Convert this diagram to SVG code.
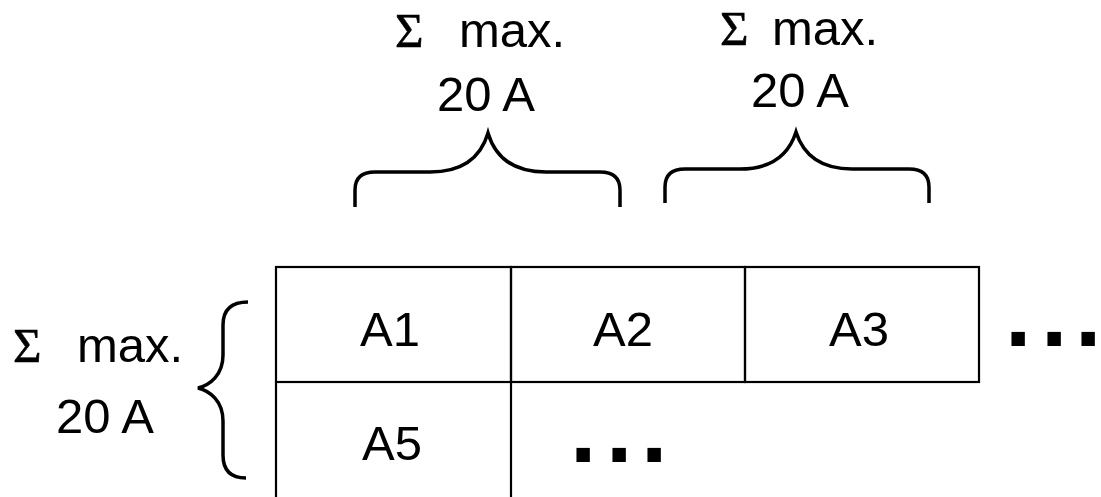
<svg xmlns="http://www.w3.org/2000/svg" width="1101" height="497" viewBox="0 0 1101 497">
<style>
.cell{fill:none;stroke:#000;stroke-width:2.2}
.brace{fill:none;stroke:#000;stroke-width:3.5;stroke-linecap:butt}
.t{font-family:"Liberation Sans",Arial,sans-serif;font-size:49px;fill:#000}
.s{font-family:"Liberation Serif","Times New Roman",serif;font-size:49px;fill:#000;stroke:#000;stroke-width:0.6}
.c{text-anchor:middle}
.dots{font-family:"Liberation Sans",Arial,sans-serif;font-size:95px;font-weight:bold;fill:#000}
</style>
<rect width="1101" height="497" fill="#fff"/>
<g id="cell-A1"><rect class="cell" x="276" y="267" width="235" height="115"/><text class="t c" x="390" y="346">A1</text></g>
<g id="cell-A2"><rect class="cell" x="511" y="267" width="234" height="115"/><text class="t c" x="623" y="346">A2</text></g>
<g id="cell-A3"><rect class="cell" x="745" y="267" width="234" height="115"/><text class="t c" x="859" y="346">A3</text></g>
<g id="cell-A5"><path class="cell" d="M276,382 V500 M511,382 V500"/><text class="t c" x="392" y="460">A5</text></g>
<g id="dots-row1"><text class="dots" y="346"><tspan x="1005">.</tspan><tspan x="1041">.</tspan><tspan x="1075">.</tspan></text></g>
<g id="dots-row2"><text class="dots" y="462"><tspan x="570">.</tspan><tspan x="606">.</tspan><tspan x="641">.</tspan></text></g>
<g id="label-top1"><text class="s" x="395" y="47">Σ</text><text class="t" x="459" y="47">max.</text><text class="t c" x="486" y="111">20 A</text></g>
<g id="label-top2"><text class="s" x="720" y="45">Σ</text><text class="t" x="772" y="45">max.</text><text class="t c" x="800" y="107">20 A</text></g>
<g id="label-left"><text class="s" x="13" y="362">Σ</text><text class="t" x="77" y="362">max.</text><text class="t c" x="105" y="433">20 A</text></g>
<g id="connectors">
<path class="brace" d="M355,207 V190 Q355,172 375,172 H430 C460,172 480,160 488,133 C496,160 516,172 546,172 H600 Q620,172 620,190 V207"/>
<path class="brace" d="M665,203 V187 Q665,169 685,169 H740 C770,169 788,157 796,132 C804,157 822,169 852,169 H909 Q929,169 929,187 V203"/>
<path class="brace" d="M248,302 Q223,302 223,325 V355 C223,375 210,385 198,388 C210,391 223,401 223,421 V455 Q223,478 246,478"/>
</g>
</svg>
